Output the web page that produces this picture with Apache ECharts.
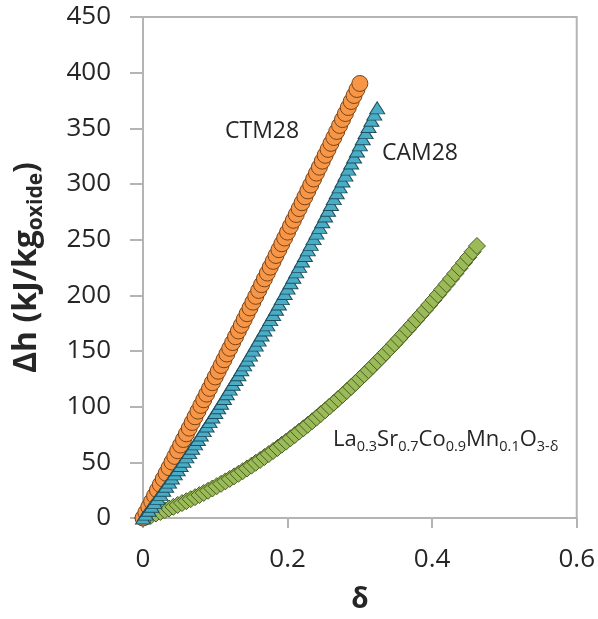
<!DOCTYPE html>
<html>
<head>
<meta charset="utf-8">
<script src="https://cdn.jsdelivr.net/npm/echarts@6/dist/echarts.min.js"></script>
<style>
html, body { margin: 0; padding: 0; background: #ffffff; }
#chart { width: 598px; height: 619px; }
</style>
</head>
<body>
<div id="chart"></div>
<script>
// Oxygen non-stoichiometry δ and enthalpy Δh (kJ/kg oxide) for three oxides
const deltaCTM = [0, 0.004, 0.008, 0.012, 0.016, 0.020, 0.024, 0.028, 0.032, 0.036, 0.040, 0.044, 0.048, 0.052, 0.056, 0.060, 0.064, 0.068, 0.072, 0.076, 0.080, 0.084, 0.088, 0.092, 0.096, 0.100, 0.104, 0.108, 0.112, 0.116, 0.120, 0.124, 0.128, 0.132, 0.136, 0.140, 0.144, 0.148, 0.152, 0.156, 0.160, 0.164, 0.168, 0.172, 0.176, 0.180, 0.184, 0.188, 0.192, 0.196, 0.200, 0.204, 0.208, 0.212, 0.216, 0.220, 0.224, 0.228, 0.232, 0.236, 0.240, 0.244, 0.248, 0.252, 0.256, 0.260, 0.264, 0.268, 0.272, 0.276, 0.280, 0.284, 0.288, 0.292, 0.296, 0.300];
const dhCTM = [0, 5.0, 10.0, 15.0, 20.0, 25.1, 30.1, 35.1, 40.2, 45.2, 50.3, 55.3, 60.4, 65.5, 70.5, 75.6, 80.7, 85.8, 90.9, 96.0, 101.1, 106.2, 111.3, 116.4, 121.6, 126.7, 131.8, 137.0, 142.1, 147.3, 152.4, 157.6, 162.8, 168.0, 173.1, 178.3, 183.5, 188.7, 193.9, 199.1, 204.4, 209.6, 214.8, 220.0, 225.3, 230.5, 235.8, 241.0, 246.3, 251.5, 256.8, 262.1, 267.4, 272.6, 277.9, 283.2, 288.5, 293.8, 299.1, 304.5, 309.8, 315.1, 320.5, 325.8, 331.1, 336.5, 341.8, 347.2, 352.6, 357.9, 363.3, 368.7, 374.1, 379.5, 384.9, 390.3];

const deltaCAM = [0, 0.004, 0.008, 0.012, 0.016, 0.020, 0.024, 0.028, 0.032, 0.036, 0.040, 0.044, 0.048, 0.052, 0.056, 0.060, 0.064, 0.068, 0.072, 0.076, 0.080, 0.084, 0.088, 0.092, 0.096, 0.100, 0.104, 0.108, 0.112, 0.116, 0.120, 0.124, 0.128, 0.132, 0.136, 0.140, 0.144, 0.148, 0.152, 0.156, 0.160, 0.164, 0.168, 0.172, 0.176, 0.180, 0.184, 0.188, 0.192, 0.196, 0.200, 0.204, 0.208, 0.212, 0.216, 0.220, 0.224, 0.228, 0.232, 0.236, 0.240, 0.244, 0.248, 0.252, 0.256, 0.260, 0.264, 0.268, 0.272, 0.276, 0.280, 0.284, 0.288, 0.292, 0.296, 0.300, 0.304, 0.308, 0.312, 0.316, 0.320, 0.324];
const dhCAM = [0, 3.5, 7.0, 10.5, 14.0, 17.6, 21.2, 24.9, 28.5, 32.2, 35.9, 39.6, 43.4, 47.2, 51.0, 54.9, 58.7, 62.7, 66.6, 70.5, 74.5, 78.5, 82.6, 86.6, 90.7, 94.8, 99.0, 103.1, 107.3, 111.6, 115.8, 120.1, 124.4, 128.7, 133.1, 137.5, 141.9, 146.3, 150.8, 155.3, 159.8, 164.4, 168.9, 173.5, 178.2, 182.8, 187.5, 192.2, 197.0, 201.7, 206.5, 211.3, 216.2, 221.1, 226.0, 230.9, 235.8, 240.8, 245.8, 250.9, 255.9, 261.0, 266.1, 271.3, 276.4, 281.6, 286.9, 292.1, 297.4, 302.7, 308.0, 313.4, 318.8, 324.2, 329.6, 335.1, 340.6, 346.1, 351.6, 357.2, 362.8, 368.4];

const deltaLSCM = [0, 0.006, 0.012, 0.018, 0.024, 0.030, 0.036, 0.042, 0.048, 0.054, 0.060, 0.066, 0.072, 0.078, 0.084, 0.090, 0.096, 0.102, 0.108, 0.114, 0.120, 0.126, 0.132, 0.138, 0.144, 0.150, 0.156, 0.162, 0.168, 0.174, 0.180, 0.186, 0.192, 0.198, 0.204, 0.210, 0.216, 0.222, 0.228, 0.234, 0.240, 0.246, 0.252, 0.258, 0.264, 0.270, 0.276, 0.282, 0.288, 0.294, 0.300, 0.306, 0.312, 0.318, 0.324, 0.330, 0.336, 0.342, 0.348, 0.354, 0.360, 0.366, 0.372, 0.378, 0.384, 0.390, 0.396, 0.402, 0.408, 0.414, 0.420, 0.426, 0.432, 0.438, 0.444, 0.450, 0.456, 0.462];
const dhLSCM = [0, 1.3, 2.6, 4.0, 5.4, 6.9, 8.5, 10.0, 11.7, 13.4, 15.1, 16.9, 18.7, 20.6, 22.5, 24.5, 26.5, 28.6, 30.7, 32.9, 35.1, 37.4, 39.7, 42.1, 44.5, 47.0, 49.6, 52.1, 54.8, 57.4, 60.2, 62.9, 65.8, 68.6, 71.6, 74.5, 77.6, 80.6, 83.7, 86.9, 90.1, 93.4, 96.7, 100.1, 103.5, 107.0, 110.5, 114.1, 117.7, 121.4, 125.1, 128.9, 132.7, 136.6, 140.5, 144.4, 148.5, 152.5, 156.6, 160.8, 165.0, 169.3, 173.6, 178.0, 182.4, 186.8, 191.4, 195.9, 200.5, 205.2, 209.9, 214.7, 219.5, 224.4, 229.3, 234.2, 239.2, 244.3];

// Axis ranges and tick spacing
const xMin = 0, xMax = 0.6, xStep = 0.2;
const yMin = 0, yMax = 450, yStep = 50;

const pairs = (xs, ys) => xs.map((x, i) => [x, ys[i]]);

const FONT = '"Open Sans", "DejaVu Sans", sans-serif';
const AXIS_GREY = '#b4b4b4';
const TEXT = '#262626';

const chart = echarts.init(document.getElementById('chart'), null, { renderer: 'canvas' });

chart.setOption({
  animation: false,
  backgroundColor: '#ffffff',
  grid: {
    left: 143, right: 21, top: 17, bottom: 98,
    show: true, borderColor: AXIS_GREY, borderWidth: 2, backgroundColor: 'transparent'
  },
  xAxis: {
    type: 'value', min: xMin, max: xMax, interval: xStep,
    name: 'δ', nameLocation: 'middle', nameGap: 68,
    nameTextStyle: { fontFamily: FONT, fontWeight: 'bold', fontSize: 28, color: TEXT },
    axisLine: { show: true, lineStyle: { color: AXIS_GREY, width: 2 } },
    axisTick: { show: true, inside: false, length: 10, lineStyle: { color: AXIS_GREY, width: 2 } },
    axisLabel: { fontFamily: FONT, fontSize: 26, color: TEXT, margin: 29 },
    splitLine: { show: false }
  },
  yAxis: {
    type: 'value', min: yMin, max: yMax, interval: yStep,
    name: '{m|Δh (kJ/kg}{s|oxide}{m|)}', nameLocation: 'middle', nameGap: 96,
    nameTextStyle: {
      fontFamily: FONT, fontWeight: 'bold', fontSize: 32, color: TEXT,
      rich: {
        m: { fontFamily: FONT, fontWeight: 'bold', fontSize: 32, color: TEXT, lineHeight: 40 },
        s: { fontFamily: FONT, fontWeight: 'bold', fontSize: 21, color: TEXT, lineHeight: 22, verticalAlign: 'bottom' }
      }
    },
    axisLine: { show: true, lineStyle: { color: AXIS_GREY, width: 2 } },
    axisTick: { show: true, inside: false, length: 13, lineStyle: { color: AXIS_GREY, width: 2 } },
    axisLabel: { fontFamily: FONT, fontSize: 26, color: TEXT, margin: 32 },
    splitLine: { show: false }
  },
  series: [
    {
      name: 'La0.3Sr0.7Co0.9Mn0.1O3-δ', type: 'scatter',
      data: pairs(deltaLSCM, dhLSCM),
      symbol: 'diamond', symbolSize: 17,
      itemStyle: { color: '#9bbb59', borderColor: '#4a5e22', borderWidth: 1, opacity: 1 }
    },
    {
      name: 'CTM28', type: 'scatter',
      data: pairs(deltaCTM, dhCTM),
      symbol: 'circle', symbolSize: 16,
      itemStyle: { color: '#f79646', borderColor: '#7a4418', borderWidth: 1, opacity: 1 }
    },
    {
      name: 'CAM28', type: 'scatter',
      data: pairs(deltaCAM, dhCAM),
      symbol: 'triangle', symbolSize: [15, 12],
      itemStyle: { color: '#4bacc6', borderColor: '#1d4f5e', borderWidth: 1, opacity: 1 }
    }
  ],
  graphic: [
    {
      type: 'text', left: 225, top: 120,
      style: { text: 'CTM28', font: '23px ' + FONT, fill: TEXT }
    },
    {
      type: 'text', left: 382, top: 142,
      style: { text: 'CAM28', font: '23px ' + FONT, fill: TEXT }
    },
    {
      type: 'text', left: 333, top: 429,
      style: {
        text: '{m|La}{s|0.3}{m|Sr}{s|0.7}{m|Co}{s|0.9}{m|Mn}{s|0.1}{m|O}{s|3-δ}',
        rich: {
          m: { fontFamily: FONT, fontSize: 22, fill: TEXT, color: TEXT, lineHeight: 28 },
          s: { fontFamily: FONT, fontSize: 14.5, fill: TEXT, color: TEXT, lineHeight: 16, verticalAlign: 'bottom' }
        }
      }
    }
  ]
});
</script>
</body>
</html>
